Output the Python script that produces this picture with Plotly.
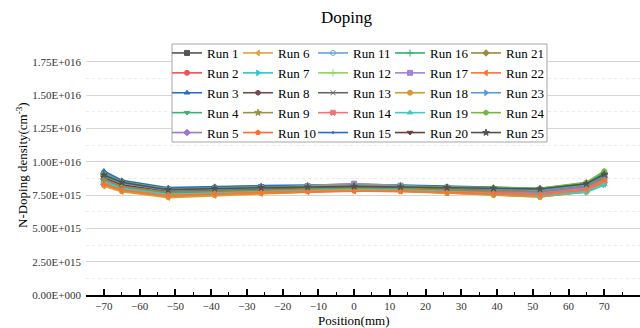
import plotly.graph_objects as go

positions = [-70, -65, -52, -39, -26, -13, 0, 13, 26, 39, 52, 65, 70]

# N-doping density in units of 1E+015 cm^-3
run_01 = [9.05, 8.45, 7.90, 8.00, 8.10, 8.15, 8.20, 8.15, 8.05, 7.95, 7.90, 8.30, 9.00]
run_02 = [8.55, 8.05, 7.60, 7.70, 7.80, 7.90, 7.95, 7.90, 7.80, 7.70, 7.60, 7.95, 8.60]
run_03 = [9.30, 8.60, 8.05, 8.15, 8.20, 8.25, 8.30, 8.25, 8.15, 8.05, 8.00, 8.40, 9.10]
run_04 = [8.85, 8.30, 7.85, 7.95, 8.05, 8.10, 8.15, 8.10, 8.00, 7.95, 7.90, 8.35, 9.20]
run_05 = [8.30, 7.90, 7.50, 7.65, 7.80, 7.95, 8.10, 8.00, 7.85, 7.70, 7.55, 7.90, 8.45]
run_06 = [8.15, 7.75, 7.30, 7.45, 7.60, 7.75, 7.85, 7.80, 7.65, 7.50, 7.35, 7.75, 8.30]
run_07 = [8.35, 7.85, 7.40, 7.55, 7.70, 7.85, 7.95, 7.85, 7.70, 7.55, 7.40, 7.70, 8.25]
run_08 = [8.75, 8.20, 7.75, 7.85, 7.95, 8.05, 8.10, 8.05, 7.95, 7.85, 7.75, 8.15, 8.80]
run_09 = [8.60, 8.10, 7.65, 7.80, 7.90, 8.00, 8.05, 8.00, 7.90, 7.80, 7.70, 8.10, 8.75]
run_10 = [8.40, 7.95, 7.45, 7.55, 7.65, 7.75, 7.80, 7.75, 7.65, 7.55, 7.45, 7.85, 8.50]
run_11 = [9.00, 8.40, 7.85, 8.00, 8.10, 8.20, 8.30, 8.20, 8.05, 7.95, 7.85, 8.20, 8.90]
run_12 = [8.90, 8.35, 7.80, 7.90, 8.00, 8.10, 8.15, 8.10, 8.00, 7.90, 7.80, 8.25, 9.10]
run_13 = [8.70, 8.20, 7.70, 7.85, 7.95, 8.05, 8.10, 8.05, 7.95, 7.85, 7.75, 8.15, 8.85]
run_14 = [8.45, 8.00, 7.55, 7.65, 7.75, 7.85, 7.90, 7.85, 7.75, 7.65, 7.55, 7.90, 8.55]
run_15 = [9.15, 8.50, 7.95, 8.10, 8.15, 8.20, 8.25, 8.20, 8.10, 8.00, 7.95, 8.35, 9.05]
run_16 = [8.95, 8.40, 7.90, 8.00, 8.05, 8.10, 8.15, 8.10, 8.05, 8.00, 7.95, 8.40, 9.15]
run_17 = [8.65, 8.15, 7.70, 7.85, 8.00, 8.15, 8.35, 8.20, 8.00, 7.85, 7.70, 8.05, 8.70]
run_18 = [8.25, 7.80, 7.35, 7.50, 7.65, 7.80, 7.90, 7.80, 7.65, 7.50, 7.35, 7.75, 8.35]
run_19 = [8.50, 8.00, 7.55, 7.70, 7.80, 7.90, 8.00, 7.90, 7.75, 7.60, 7.45, 7.75, 8.30]
run_20 = [8.80, 8.25, 7.80, 7.90, 8.00, 8.05, 8.10, 8.05, 8.00, 7.90, 7.80, 8.20, 8.95]
run_21 = [8.70, 8.15, 7.70, 7.80, 7.90, 8.00, 8.05, 8.00, 7.90, 7.80, 7.75, 8.15, 8.80]
run_22 = [8.30, 7.85, 7.45, 7.60, 7.70, 7.75, 7.80, 7.80, 7.70, 7.60, 7.50, 7.90, 8.60]
run_23 = [8.95, 8.40, 7.85, 7.95, 8.05, 8.15, 8.20, 8.15, 8.05, 7.95, 7.85, 8.25, 8.95]
run_24 = [9.10, 8.50, 7.95, 8.05, 8.10, 8.15, 8.20, 8.15, 8.10, 8.05, 8.00, 8.45, 9.30]
run_25 = [9.00, 8.45, 7.90, 8.00, 8.05, 8.10, 8.15, 8.10, 8.05, 8.00, 7.95, 8.35, 9.05]

runs = [run_01, run_02, run_03, run_04, run_05, run_06, run_07, run_08, run_09, run_10,
        run_11, run_12, run_13, run_14, run_15, run_16, run_17, run_18, run_19, run_20,
        run_21, run_22, run_23, run_24, run_25]
run_names = ["Run %d" % (i + 1) for i in range(25)]

colors = ["#555555", "#f05252", "#2b6cc8", "#3fb072", "#a173d2",
          "#d9a443", "#2fc7c7", "#744a4a", "#9a9148", "#ff6b2e",
          "#6aa2d8", "#93d162", "#666666", "#f27474", "#2a6ad0",
          "#31b071", "#a383d8", "#d49c30", "#41c9c6", "#6e3e3e",
          "#998a3a", "#ff7232", "#5b99d8", "#72b843", "#525252"]
symbols = ["square", "circle", "triangle-up", "triangle-down", "diamond",
           "triangle-left", "triangle-right", "hexagon", "star", "pentagon",
           "circle-open", "cross-thin-open", "x-thin-open", "x", "circle",
           "cross-thin-open", "square", "circle", "triangle-up", "triangle-down",
           "diamond", "triangle-left", "triangle-right", "hexagon", "star"]

ytick_vals = [0, 2.5, 5.0, 7.5, 10.0, 12.5, 15.0, 17.5]
ytick_text = ["0.00E+000", "2.50E+015", "5.00E+015", "7.50E+015",
              "1.00E+016", "1.25E+016", "1.50E+016", "1.75E+016"]
xtick_vals = [-70, -60, -50, -40, -30, -20, -10, 0, 10, 20, 30, 40, 50, 60, 70]

FONT = "Liberation Serif"
W, H = 640, 328
ML, MR, MT, MB = 86, 0, 45, 33
PW = W - ML - MR
PH = H - MT - MB

def px_x(p):
    return (p - ML) / PW

def px_y(p):
    return (H - MB - p) / PH

fig = go.Figure()
legend_ids = ["legend", "legend2", "legend3", "legend4", "legend5"]
for i, (vals, name) in enumerate(zip(runs, run_names)):
    fig.add_trace(go.Scatter(
        x=positions, y=vals, name=name, mode="lines+markers",
        line=dict(color=colors[i], width=1.6),
        marker=dict(symbol=symbols[i], size=5 if i != 14 else 1, color=colors[i],
                    line=dict(width=1, color=colors[i])),
        legend=legend_ids[i // 5],
    ))

legend_left_px = [167, 238, 313, 390, 466]
layout_legends = {}
for lid, lx in zip(legend_ids, legend_left_px):
    layout_legends[lid] = dict(
        x=px_x(lx), y=px_y(38), xanchor="left", yanchor="top",
        font=dict(family=FONT, size=13, color="#000000"),
        bgcolor="rgba(0,0,0,0)", borderwidth=0, itemwidth=30, tracegroupgap=0,
    )

fig.update_layout(
    width=W, height=H, autosize=False,
    margin=dict(l=ML, r=MR, t=MT, b=MB, autoexpand=False),
    paper_bgcolor="white", plot_bgcolor="white",
    font=dict(family=FONT, color="#404040"),
    showlegend=True,
    **layout_legends,
)

fig.update_xaxes(
    range=[-75, 80], tickvals=xtick_vals, showgrid=False, zeroline=False,
    showline=True, linecolor="#000000", linewidth=1.5,
    ticks="inside", ticklen=6, tickwidth=1.5, tickcolor="#000000",
    tickfont=dict(family=FONT, size=11, color="#333333"),
    minor=dict(dtick=5, ticks="inside", ticklen=3, tickwidth=1.2, tickcolor="#000000", showgrid=False),
)
fig.update_yaxes(
    range=[0, 18.75], tickvals=ytick_vals, ticktext=ytick_text,
    showgrid=True, gridcolor="#d6d6d6", gridwidth=1, zeroline=False, showline=False,
    ticks="", ticklabelstandoff=4,
    tickfont=dict(family=FONT, size=11, color="#333333"),
    minor=dict(dtick=1.25, showgrid=True, gridcolor="#ebebeb", griddash="dot", gridwidth=1),
)

fig.add_shape(type="rect", xref="paper", yref="paper",
              x0=px_x(172), x1=px_x(547), y0=px_y(142), y1=px_y(44),
              fillcolor="white", line=dict(color="#a6a6a6", width=1), layer="above")

fig.add_annotation(text="Doping", xref="paper", yref="paper",
                   x=px_x(347), y=px_y(18), showarrow=False,
                   xanchor="center", yanchor="middle",
                   font=dict(family=FONT, size=17, color="#000000"))
fig.add_annotation(text="Position(mm)", xref="paper", yref="paper",
                   x=px_x(354), y=px_y(320), showarrow=False,
                   xanchor="center", yanchor="middle",
                   font=dict(family=FONT, size=13, color="#000000"))
fig.add_annotation(text="N-Doping density(cm<sup>-3</sup>)", xref="paper", yref="paper",
                   x=px_x(22), y=px_y(165), showarrow=False, textangle=-90,
                   xanchor="center", yanchor="middle",
                   font=dict(family=FONT, size=13, color="#000000"))

fig.write_html("out.html", config={"displayModeBar": False},
               post_script="document.body.style.margin='0';document.body.style.overflow='hidden';")
